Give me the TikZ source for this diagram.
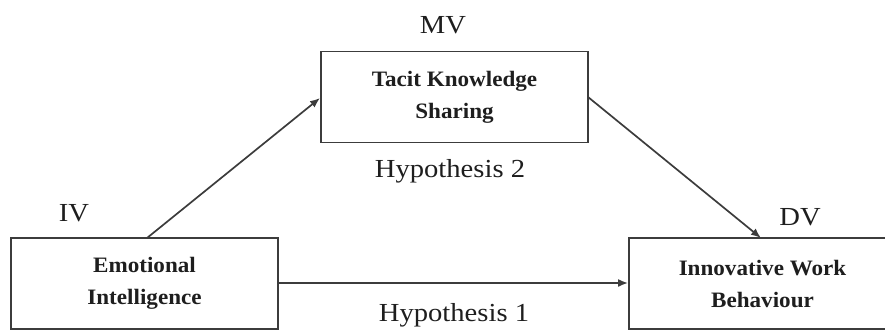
\documentclass[tikz,border=0pt]{standalone}
\usepackage{fontspec}
\setmainfont{Liberation Serif}
\newfontfamily\labfont[FakeStretch=1.1]{Liberation Serif}
\newfontfamily\boxfont[FakeStretch=1.05]{Liberation Serif}
\usetikzlibrary{arrows.meta}
\definecolor{linegray}{HTML}{3C3C3C}
\definecolor{txt}{HTML}{1E1E1E}
\begin{document}
\begin{tikzpicture}[x=1pt,y=-1pt,
  varbox/.style={draw=linegray, line width=1.9pt, minimum width=267pt, minimum height=91pt, inner sep=0pt,
    align=center, font=\boxfont\fontsize{22}{32}\selectfont\bfseries, text=txt},
  lab/.style={font=\labfont\fontsize{26}{30}\selectfont, text=txt, inner sep=0pt},
  conn/.style={draw=linegray, line width=1.7pt, -{Latex[length=10pt,width=8pt]}}]
\useasboundingbox (0,0) rectangle (885,331);
\node[varbox] (ei) at (144.5,283.5) {Emotional\\Intelligence};
\node[varbox] (tks) at (454.5,97) {Tacit Knowledge\\Sharing};
\node[varbox] (iwb) at (762.5,283.5) {Innovative Work\\Behaviour};
\node[lab] (iv) at (74,213) {IV};
\node[lab] (mv) at (443,25) {MV};
\node[lab] (dv) at (800,217) {DV};
\node[lab] (h2) at (450,171) {Hypothesis 2};
\node[lab] (h1) at (454,315) {Hypothesis 1};
\coordinate (a1s) at (147,238);
\coordinate (a1e) at (320,98);
\coordinate (a2s) at (588,97);
\coordinate (a2e) at (761,238);
\draw[conn] (a1s) -- (a1e);
\draw[conn] (a2s) -- (a2e);
\draw[conn] (ei.east |- 0,283) -- (iwb.west |- 0,283);
\end{tikzpicture}
\end{document}
